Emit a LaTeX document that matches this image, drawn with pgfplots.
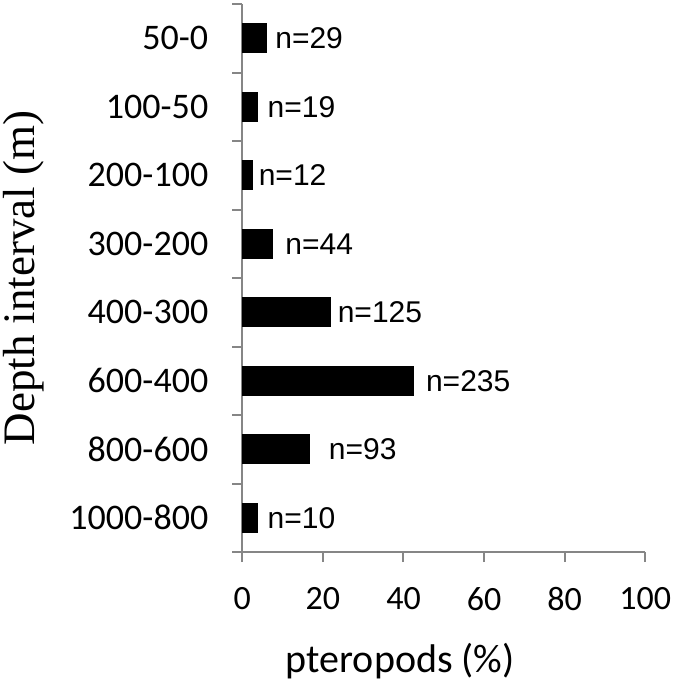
\documentclass[border=0pt]{standalone}
\usepackage{pgfplots}
\pgfplotsset{compat=1.18}
\usepackage{fontspec}
\setmainfont{Carlito}
\newfontfamily\arialf{Liberation Sans}
\newfontfamily\timesf{Liberation Serif}
\definecolor{axisgray}{RGB}{134,134,134}
\begin{document}
\begin{tikzpicture}
\useasboundingbox (-121.15pt,-64pt) rectangle (216.35pt,276pt);
\begin{axis}[
  at={(0pt,0pt)}, anchor=south west,
  scale only axis, width=201.5pt, height=274pt,
  xbar, bar width=0.42,
  xmin=0, xmax=100, ymin=-0.5, ymax=7.5, y dir=reverse,
  axis lines=left,
  axis line style={-, draw=axisgray, line width=1pt},
  tick style={draw=axisgray, line width=1pt},
  tick align=outside, major tick length=5pt,
  xtick={0,20,...,100},
  ytick={-0.5,0.5,...,7.5}, yticklabels={},
  extra y ticks={0,1,2,3,4,5,6,7},
  extra y tick labels={50-0,100-50,200-100,300-200,400-300,600-400,800-600,1000-800},
  extra y tick style={major tick length=0pt, yticklabel style={xshift=-13.5pt}},
  /pgf/number format/assume math mode=true,
  xticklabel style={font=\fontsize{17}{17}\selectfont, yshift=-9pt},
  yticklabel style={font=\fontsize{18}{18}\selectfont},
  xlabel={pteropods (\%)},
  xlabel style={at={(axis description cs:0.392,0)}, anchor=base, yshift=-60pt, font=\fontsize{20}{20}\selectfont},
  ylabel={Depth interval (m)},
  ylabel style={at={(axis description cs:0,0.5)}, anchor=center, yshift=109.5pt, font=\timesf\fontsize{22.5}{22.5}\selectfont},
  clip=false,
]
\addplot[fill=black, draw=black] coordinates {
  (5.9,0) (3.7,1) (2.6,2) (7.4,3) (21.8,4) (42.5,5) (16.6,6) (3.7,7)
};
\begin{scope}[every node/.style={anchor=west, inner sep=0pt, font=\arialf\fontsize{15}{15}\selectfont}]
\node at (axis cs:8.1,0) {n=29};
\node at (axis cs:6.2,1) {n=19};
\node at (axis cs:4.0,2) {n=12};
\node at (axis cs:10.6,3) {n=44};
\node at (axis cs:23.6,4) {n=125};
\node at (axis cs:45.5,5) {n=235};
\node at (axis cs:21.4,6) {n=93};
\node at (axis cs:6.2,7) {n=10};
\end{scope}
\end{axis}
\end{tikzpicture}
\end{document}
